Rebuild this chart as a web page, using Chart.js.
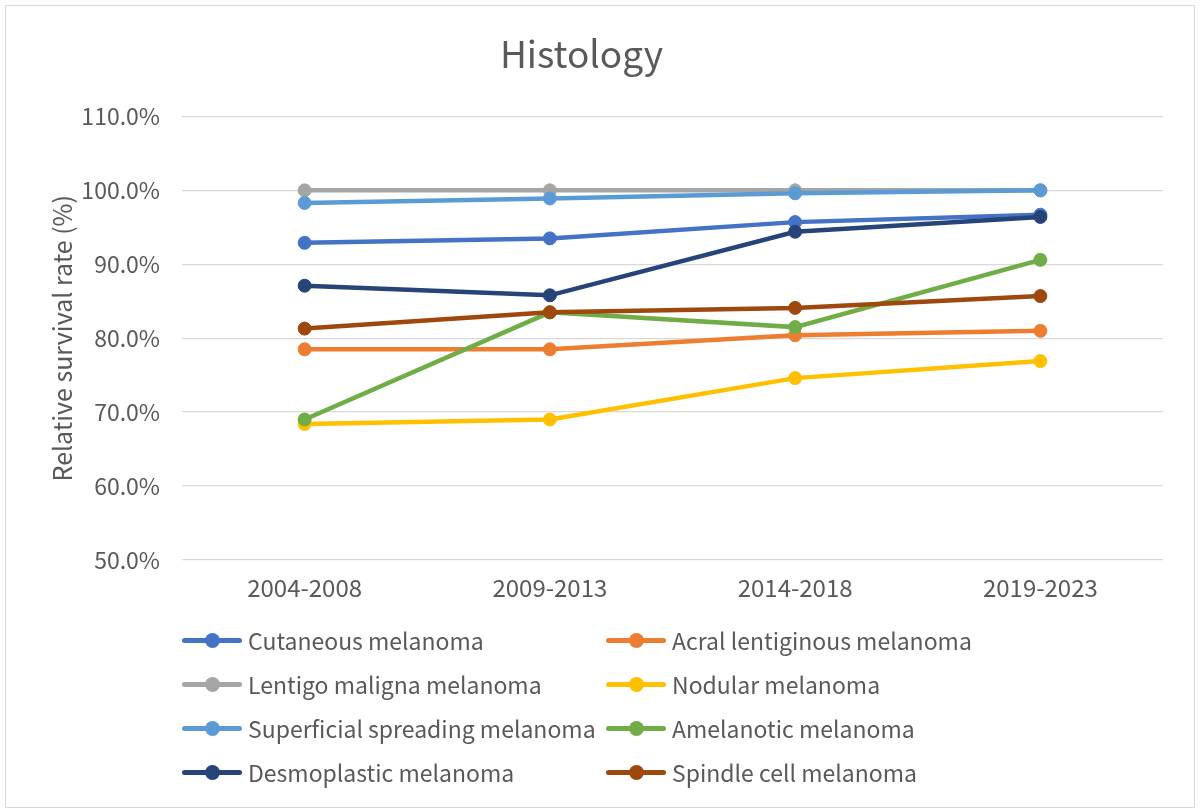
<!DOCTYPE html>
<html>
<head>
<meta charset="utf-8">
<title>Histology</title>
<script src="https://cdn.jsdelivr.net/npm/chart.js@4.4.1/dist/chart.umd.min.js"></script>
<style>
    html, body { margin: 0; padding: 0; background: #fff; }
    body { width: 1200px; height: 812px; position: relative; overflow: hidden; font-family: 'Noto Sans CJK SC', 'Noto Sans', sans-serif; }
    #frame { position: absolute; left: 5px; top: 5px; width: 1188px; height: 801px; border: 1px solid #d9d9d9; pointer-events: none; }
    #chartWrap { position: absolute; left: 0; top: 0; width: 1200px; height: 812px; }
    #legend { position: absolute; left: 182px; top: 618px; display: grid; grid-template-columns: 424px 480px; grid-auto-rows: 44px; }
    .legend-item { display: flex; align-items: center; font-size: 23px; color: #595959; white-space: nowrap; }
    .legend-key { position: relative; width: 60px; height: 16px; margin-right: 6px; flex: none; }
    .legend-key .ln { position: absolute; left: 0; top: 5.5px; width: 60px; height: 5px; border-radius: 2.5px; }
    .legend-key .dt { position: absolute; left: 22.5px; top: 0.5px; width: 15px; height: 15px; border-radius: 50%; }
</style>
</head>
<body>
<div id="chartWrap"><canvas id="histologyChart"></canvas></div>
<div id="legend"></div>
<div id="frame"></div>

<script>
// Data
const periods = ['2004-2008', '2009-2013', '2014-2018', '2019-2023'];
const seriesNames = [
    'Cutaneous melanoma', 'Acral lentiginous melanoma',
    'Lentigo maligna melanoma', 'Nodular melanoma',
    'Superficial spreading melanoma', 'Amelanotic melanoma',
    'Desmoplastic melanoma', 'Spindle cell melanoma'
];
const cutaneous    = [92.9, 93.5, 95.7, 96.7];
const acral        = [78.5, 78.5, 80.4, 81.0];
const lentigo      = [100.0, 100.0, 100.0, 100.0];
const nodular      = [68.4, 69.0, 74.6, 76.9];
const superficial  = [98.3, 98.9, 99.6, 100.0];
const amelanotic   = [69.0, 83.5, 81.5, 90.6];
const desmoplastic = [87.1, 85.8, 94.4, 96.4];
const spindle      = [81.3, 83.5, 84.1, 85.7];
const yTicks = [50, 60, 70, 80, 90, 100, 110];

const seriesValues = [cutaneous, acral, lentigo, nodular, superficial, amelanotic, desmoplastic, spindle];
const seriesColors = ['#4472C4', '#ED7D31', '#A5A5A5', '#FFC000', '#5B9BD5', '#70AD47', '#264478', '#9E480E'];

const textColor = '#595959';
Chart.defaults.font.family = "'Noto Sans CJK SC', 'Noto Sans', sans-serif";
Chart.defaults.color = textColor;

document.addEventListener('DOMContentLoaded', function() {
    const datasets = seriesNames.map((name, i) => ({
        label: name,
        data: seriesValues[i],
        borderColor: seriesColors[i],
        backgroundColor: seriesColors[i],
        pointBackgroundColor: seriesColors[i],
        pointBorderColor: seriesColors[i],
        borderWidth: 4.5,
        pointRadius: 6.5,
        pointBorderWidth: 1,
        tension: 0,
        // later series sit on top, like the original
        order: seriesNames.length - i
    }));

    const chart = new Chart(document.getElementById('histologyChart'), {
        type: 'line',
        data: { labels: periods, datasets: datasets },
        options: {
            responsive: true,
            maintainAspectRatio: false,
            animation: false,
            layout: { padding: { left: 0, right: 37, top: 0, bottom: 202 } },
            plugins: {
                legend: { display: false },
                tooltip: { enabled: false },
                title: {
                    display: true,
                    text: 'Histology',
                    color: textColor,
                    font: { size: 37, weight: 'normal' },
                    padding: { top: 32, bottom: 40 }
                }
            },
            scales: {
                x: {
                    offset: true,
                    grid: { display: false, drawTicks: false },
                    border: { display: false },
                    ticks: { color: textColor, font: { size: 24 }, padding: 13 },
                    afterFit: scale => { scale.height = 50; }
                },
                y: {
                    min: yTicks[0],
                    max: yTicks[yTicks.length - 1],
                    afterBuildTicks: scale => { scale.ticks = yTicks.map(v => ({ value: v })); },
                    grid: { color: '#d9d9d9', lineWidth: 1.3, drawTicks: false },
                    border: { display: false },
                    ticks: {
                        color: textColor,
                        font: { size: 23 },
                        padding: 22,
                        callback: v => v.toFixed(1) + '%'
                    },
                    title: {
                        display: true,
                        text: 'Relative survival rate (%)',
                        color: textColor,
                        font: { size: 25 },
                        padding: { top: 47, bottom: 0 }
                    },
                    afterFit: scale => { scale.width = 182; }
                }
            }
        }
    });

    // Two-column legend, built from the chart datasets
    const legend = document.getElementById('legend');
    chart.data.datasets.forEach(ds => {
        const item = document.createElement('div');
        item.className = 'legend-item';
        item.innerHTML = `<span class="legend-key"><span class="ln" style="background:${ds.borderColor}"></span><span class="dt" style="background:${ds.borderColor}"></span></span>${ds.label}`;
        legend.appendChild(item);
    });
});
</script>
</body>
</html>
